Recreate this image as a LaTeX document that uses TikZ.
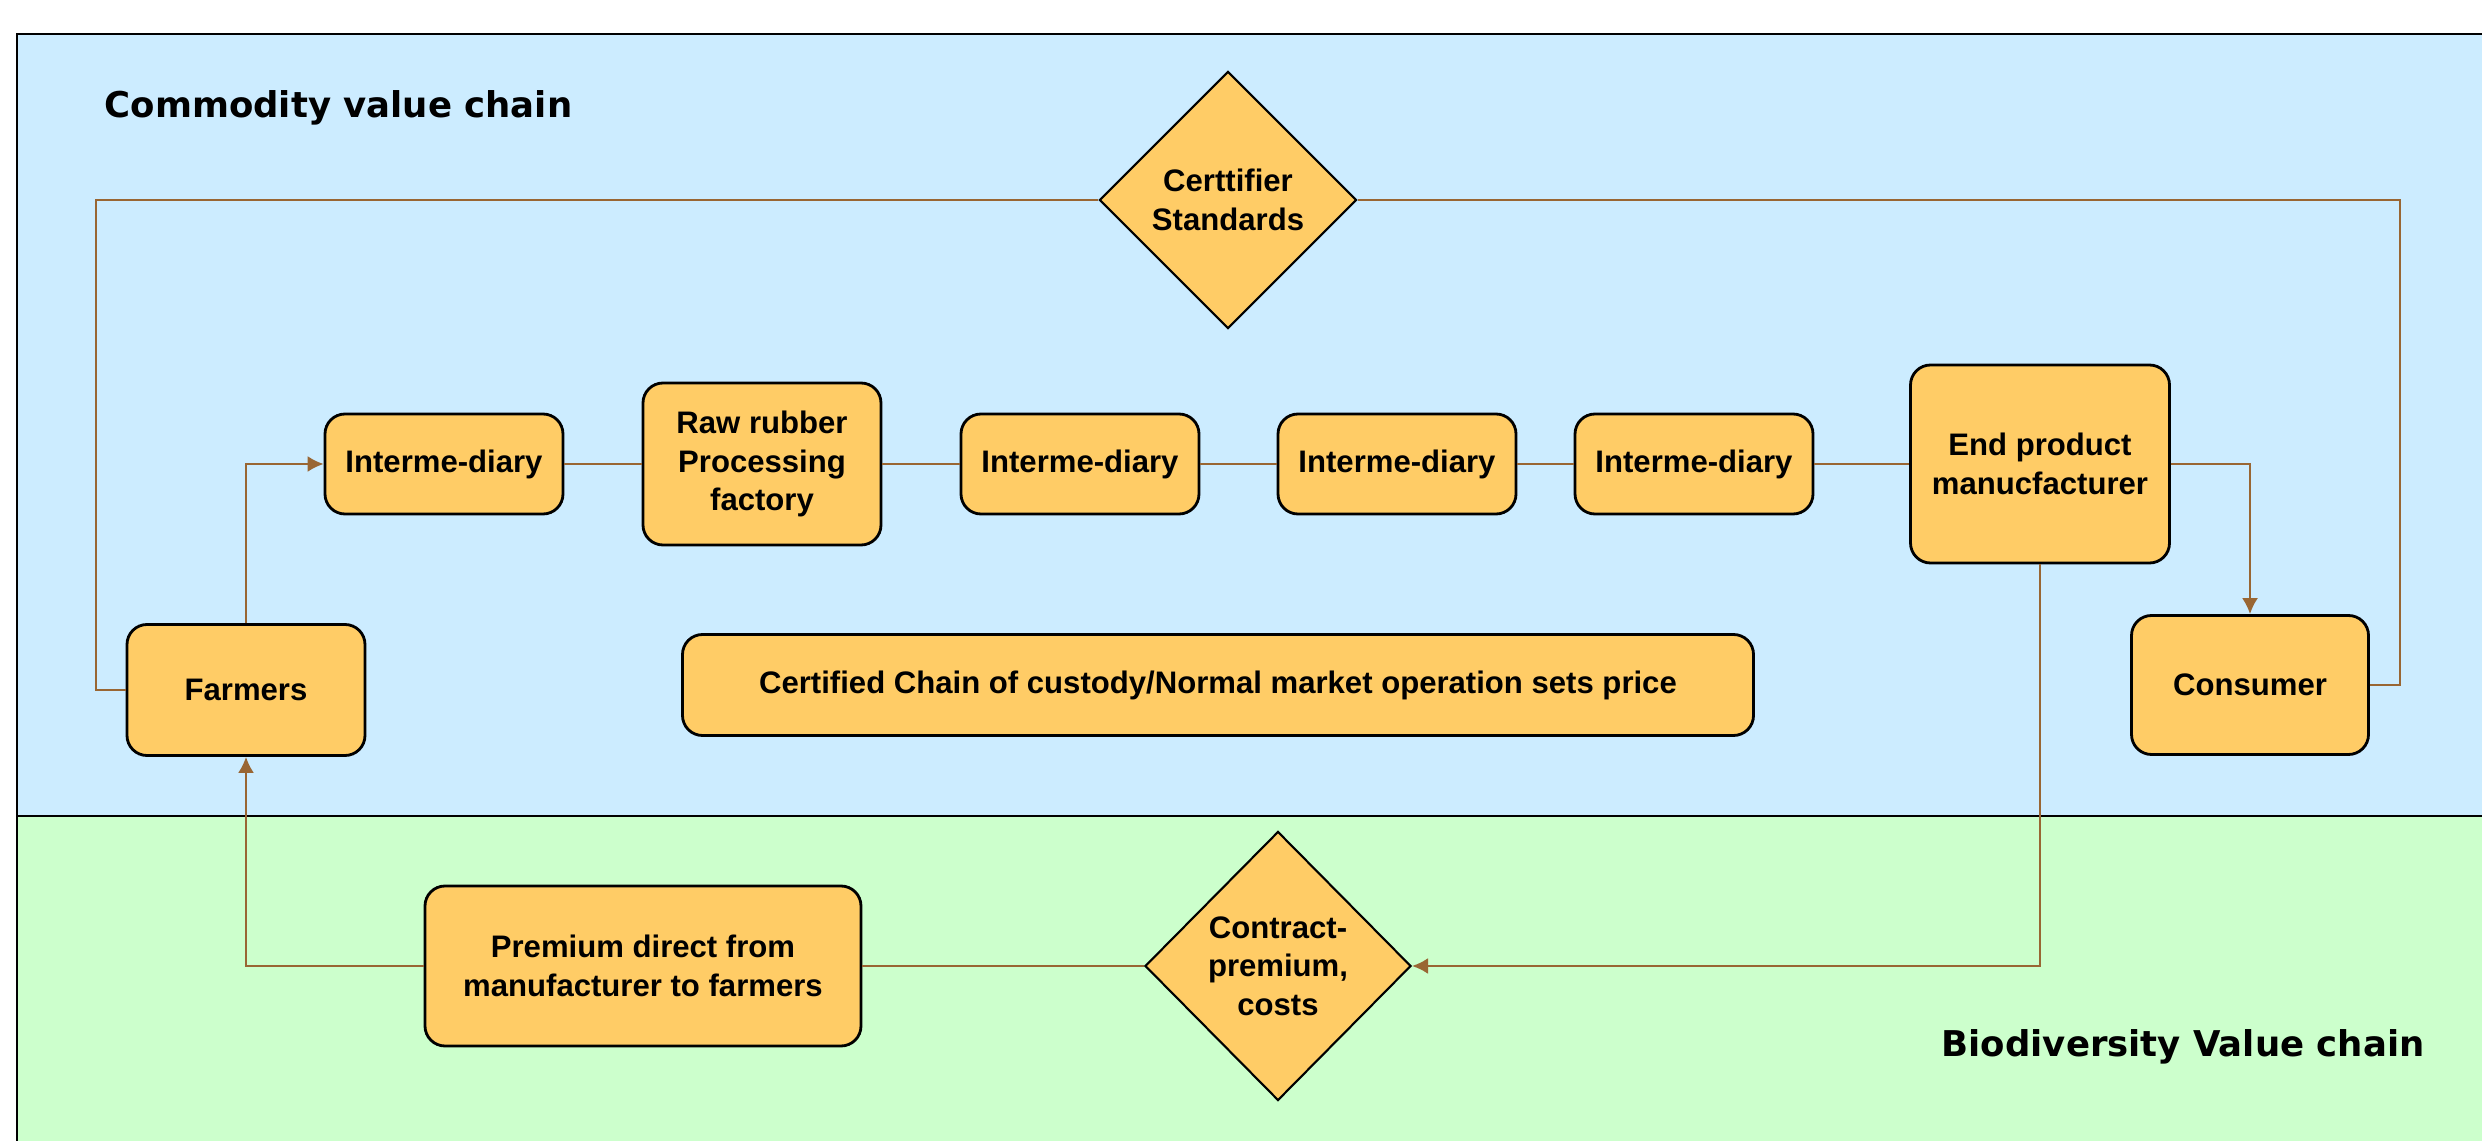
\documentclass[tikz,border=0pt]{standalone}
\usepackage{fontspec}
\setmainfont{Liberation Sans}
\newfontfamily\titlefont{DejaVu Sans}
\usetikzlibrary{shapes.geometric, arrows.meta}

\definecolor{chainblue}{HTML}{CCECFF}
\definecolor{chaingreen}{HTML}{CCFFCC}
\definecolor{boxorange}{HTML}{FFCC66}
\definecolor{linkbrown}{HTML}{996633}

\begin{document}
\begin{tikzpicture}[> = {Latex[length = 1.6mm, width = 1.6mm]},
	box/.style = {draw, thick, rounded corners = 2mm, fill = boxorange, align = center, inner sep = 2pt, font = \bfseries\fontsize{8.85}{10.9}\selectfont},
	decision/.style = {diamond, draw, semithick, fill = boxorange, align = center, inner sep = 0pt, font = \bfseries\fontsize{8.85}{10.9}\selectfont},
	link/.style = {draw = linkbrown, line width = 0.6pt},
	chainlink/.style = {draw = linkbrown, line width = 0.8pt},
	title/.style = {anchor = base west, inner sep = 0pt, font = \titlefont\bfseries\fontsize{10.1}{12}\selectfont}]

	% Panels
	
	\useasboundingbox (0, 0) rectangle (24.82, -11.41);
	\fill [chainblue] (0.17, -0.34) rectangle (24.82, -8.16);
	\fill [chaingreen] (0.17, -8.16) rectangle (24.82, -11.41);
	\draw [thick] (0.17, -11.41) -- (0.17, -0.34) -- (24.82, -0.34);
	\draw [thick] (0.17, -8.16) -- (24.82, -8.16);
	
	\node [title] (commodity) at (1.04, -1.18) {Commodity value chain};
	\node [title] (biodiversity) at (19.41, -10.56) {Biodiversity Value chain};
	
	% Chain of custody
	
	\node [box, minimum width = 2.38cm, minimum height = 1.31cm] (farmers) at (2.46, -6.90) {Farmers};
	\node [box, minimum width = 2.38cm, minimum height = 1.62cm] (factory) at (7.62, -4.64) {Raw rubber\\Processing\\factory};
	\foreach \name/\x in {inter1/4.44, inter2/10.80, inter3/13.97, inter4/16.94}
	{
		\node [box, minimum width = 2.38cm, minimum height = 1cm] (\name) at (\x, -4.64) {Interme-diary};
	}
	\node [box, minimum width = 2.59cm, minimum height = 1.98cm] (endprod) at (20.40, -4.64) {End product\\manucfacturer};
	\node [box, minimum width = 2.37cm, minimum height = 1.39cm] (consumer) at (22.50, -6.85) {Consumer};
	\node [box, minimum width = 10.71cm, minimum height = 1.01cm] (custody) at (12.18, -6.85) {Certified Chain of custody/Normal market operation sets price};
	\node [decision, minimum width = 2.57cm, minimum height = 2.57cm] (certifier) at (12.28, -2.00) {Certtifier\\Standards};
	
	% Biodiversity premium
	
	\node [box, minimum width = 4.36cm, minimum height = 1.60cm] (premium) at (6.43, -9.66) {Premium direct from\\manufacturer to farmers};
	\node [decision, minimum width = 2.66cm, minimum height = 2.69cm] (contract) at (12.78, -9.66) {Contract-\\premium,\\costs};
	
	% Connectors
	
	\draw [link, ->] (farmers.north) |- (inter1.west);
	\draw [chainlink] (inter1.east) -- (factory.west);
	\draw [chainlink] (factory.east) -- (inter2.west);
	\draw [chainlink] (inter2.east) -- (inter3.west);
	\draw [chainlink] (inter3.east) -- (inter4.west);
	\draw [chainlink] (inter4.east) -- (endprod.west);
	\draw [link, ->] (endprod.east) -| (consumer.north);
	\draw [link] (consumer.east) -- ([xshift = 3mm] consumer.east) |- (certifier.east);
	\draw [link] (certifier.west) -| ([xshift = -3mm] farmers.west) -- (farmers.west);
	\draw [link, ->] (endprod.south) |- (contract.east);
	\draw [chainlink] (contract.west) -- (premium.east);
	\draw [link, ->] (premium.west) -| (farmers.south);

\end{tikzpicture}
\end{document}
